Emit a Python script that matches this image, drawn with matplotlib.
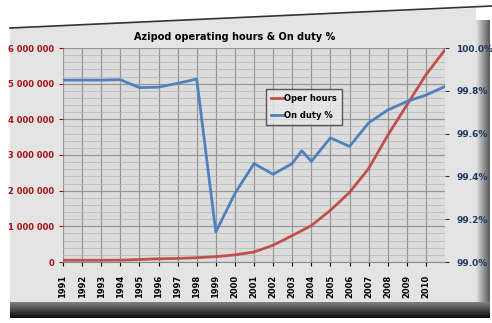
import numpy as np
import matplotlib.pyplot as plt
from matplotlib.patches import Polygon
from matplotlib.ticker import FuncFormatter, MultipleLocator

# operating hours per year (2011 point has no label on the axis)
hour_years = list(range(1991, 2012))
oper_hours = [50000, 50000, 50000, 52000, 70000, 90000, 100000, 120000, 150000, 200000,
              280000, 470000, 740000, 1020000, 1450000, 1950000, 2620000, 3550000,
              4400000, 5250000, 5950000]

# on duty %
duty_years = [1991, 1992, 1993, 1994, 1995, 1996, 1997, 1998, 1999, 2000, 2001, 2002,
              2003, 2003.5, 2004, 2005, 2006, 2007, 2008, 2009, 2010, 2011]
duty_pct = [99.85, 99.85, 99.85, 99.852, 99.815, 99.817, 99.835, 99.855, 99.14, 99.32,
            99.46, 99.41, 99.46, 99.52, 99.47, 99.58, 99.54, 99.65, 99.71, 99.75,
            99.78, 99.82]

year_labels = [str(y) for y in range(1991, 2011)]

fig = plt.figure(figsize=(4.92, 3.23), dpi=100)
fig.patch.set_facecolor("white")

# chart area + bevel
fig.patches.append(Polygon([(10 / 492, 1 - 28 / 323), (476 / 492, 1 - 8 / 323),
                            (476 / 492, 1 - 302 / 323), (10 / 492, 1 - 302 / 323)],
                           closed=True, transform=fig.transFigure, facecolor="#e4e4e4",
                           edgecolor="none", zorder=-10))
fig.add_artist(plt.Line2D([10 / 492, 492 / 492], [1 - 28 / 323, 1 - 6 / 323],
                          transform=fig.transFigure, color="#333333", lw=1.2, zorder=-9))
bot = fig.add_axes([10 / 492, 1 - 318 / 323, 480 / 492, 16 / 323])
bot.imshow(np.linspace(0.5, 0.05, 20).reshape(-1, 1), cmap="gray", vmin=0, vmax=1,
           aspect="auto", extent=[0, 1, 0, 1])
bot.axis("off")
side = fig.add_axes([476 / 492, 1 - 302 / 323, 14 / 492, 282 / 323])
side.imshow(np.linspace(0.88, 0.35, 20).reshape(1, -1), cmap="gray", vmin=0, vmax=1,
            aspect="auto", extent=[0, 1, 0, 1])
side.axis("off")

ax = fig.add_axes([63 / 492, 1 - 262 / 323, 382 / 492, 214 / 323])
ax.set_facecolor("#dcdcdc")
ax2 = ax.twinx()

l1, = ax.plot(hour_years, oper_hours, color="#c0504d", lw=2, label="Oper hours")
l2, = ax2.plot(duty_years, duty_pct, color="#4f81bd", lw=2, label="On duty %")

ax.set_xlim(1991, 2011)
ax.set_xticks(range(1991, 2011))
ax.set_xticklabels(year_labels, rotation=90, fontsize=6, fontweight="bold")
ax.set_ylim(0, 6000000)
ax.yaxis.set_major_locator(MultipleLocator(1000000))
ax.yaxis.set_minor_locator(MultipleLocator(200000))
ax.yaxis.set_major_formatter(FuncFormatter(lambda v, p: f"{int(v):,}".replace(",", " ")))
ax.tick_params(axis="y", colors="#a50f15", labelsize=6, length=3)
for t in ax.get_yticklabels():
    t.set_fontweight("bold")
ax.tick_params(axis="x", length=3, pad=6)
ax.tick_params(which="minor", length=0)

ax2.set_ylim(99.0, 100.0)
ax2.yaxis.set_major_locator(MultipleLocator(0.2))
ax2.yaxis.set_major_formatter(FuncFormatter(lambda v, p: f"{v:.1f}%"))
ax2.tick_params(axis="y", colors="#1f3864", labelsize=6.5, length=3, pad=5)
for t in ax2.get_yticklabels():
    t.set_fontweight("bold")

ax.grid(True, which="major", color="#969696", lw=0.9)
ax.grid(True, which="minor", axis="y", color="#b4b4b4", lw=0.5)
ax.set_axisbelow(True)
for s in ["top", "right", "left"]:
    ax.spines[s].set_visible(False)
    ax2.spines[s].set_visible(False)
ax.spines["bottom"].set_color("#8c8c8c")
ax2.spines["bottom"].set_visible(False)

leg = ax2.legend(handles=[l1, l2], loc="upper left", bbox_to_anchor=(0.52, 0.83),
                 prop={"size": 6, "weight": "bold"},
                 frameon=True, fancybox=False, handlelength=1.5,
                 borderpad=0.6, labelspacing=1.0, handletextpad=0.1)
leg.get_frame().set_edgecolor("#333333")
leg.get_frame().set_facecolor("#e8e8e8")

fig.text(235 / 492, 1 - 37 / 323, "Azipod operating hours & On duty %",
         ha="center", va="center", fontsize=7, fontweight="bold")

fig.savefig("out.png", dpi=100)
